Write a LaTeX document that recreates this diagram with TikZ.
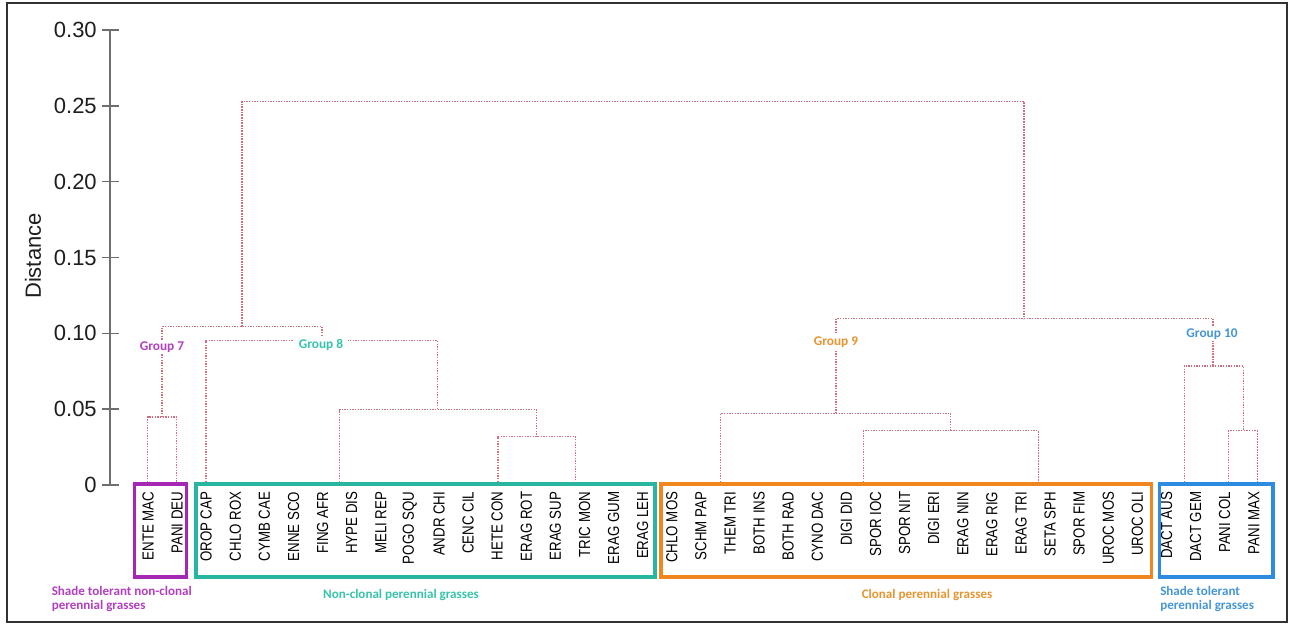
\documentclass[tikz,border=0pt]{standalone}
\usepackage{fontspec}
\setmainfont{Liberation Sans}
\newfontfamily\leaffont[FakeStretch=0.83]{Liberation Sans}
\newfontfamily\grpfont{Carlito}
\usetikzlibrary{fit}
\definecolor{dendcol}{RGB}{208,110,128}
\definecolor{axcol}{RGB}{110,110,110}
\definecolor{axtext}{RGB}{30,30,30}
\definecolor{framecol}{RGB}{50,50,50}
\definecolor{purpbox}{RGB}{165,40,180}
\definecolor{purptxt}{RGB}{178,62,192}
\definecolor{tealbox}{RGB}{40,182,160}
\definecolor{tealtxt}{RGB}{55,195,170}
\definecolor{orabox}{RGB}{240,135,30}
\definecolor{oratxt}{RGB}{232,148,48}
\definecolor{bluebox}{RGB}{45,140,225}
\definecolor{bluetxt}{RGB}{70,150,215}
\begin{document}
\begin{tikzpicture}[x=0.75pt,y=-0.75pt,
  dend/.style={draw=dendcol, line width=0.8pt, dash pattern=on 1.1pt off 0.9pt},
  leaf/.style={rotate=90, anchor=east, font=\leaffont\fontsize{12}{13}\selectfont, inner sep=0pt, text=black},
  ticklab/.style={anchor=east, font=\fontsize{16.5}{18}\selectfont, inner sep=0pt, text=axtext},
  grp/.style={font=\grpfont\bfseries\fontsize{10}{11}\selectfont, fill=white, inner sep=1.5pt},
  captxt/.style={font=\grpfont\bfseries\fontsize{9.8}{10.2}\selectfont, inner sep=0pt},
  gbox/.style={line width=2.3pt, inner sep=0pt}]
\useasboundingbox (0,0) rectangle (1292,626);
% frame
\draw[framecol, line width=1.1pt] (7,3) rectangle (1287,622);
% axis
\coordinate (axtop) at (110,30);
\coordinate (axbot) at (110,485);
\draw[axcol, line width=1.1pt] (axtop) -- (axbot);
\foreach \v/\lab [count=\k] in {0/0, 0.05/0.05, 0.10/0.10, 0.15/0.15, 0.20/0.20, 0.25/0.25, 0.30/0.30}{
  \coordinate (tk\k) at (102,{485-1516.7*\v});
  \coordinate (tke\k) at (119,{485-1516.7*\v});
  \draw[axcol, line width=1.1pt] (tk\k) -- (tke\k);
  \node[ticklab] (tl\k) at (97,{485-1516.7*\v}) {\lab};
}
\node[rotate=90, font=\fontsize{16.5}{18}\selectfont, text=axtext] (ytitle) at (33,256) {Distance};
% leaves
\foreach \n [count=\i from 0] in {ENTE MAC, PANI DEU, OROP CAP, CHLO ROX, CYMB CAE, ENNE SCO, FING AFR, HYPE DIS, MELI REP, POGO SQU, ANDR CHI, CENC CIL, HETE CON, ERAG ROT, ERAG SUP, TRIC MON, ERAG GUM, ERAG LEH, CHLO MOS, SCHM PAP, THEM TRI, BOTH INS, BOTH RAD, CYNO DAC, DIGI DID, SPOR IOC, SPOR NIT, DIGI ERI, ERAG NIN, ERAG RIG, ERAG TRI, SETA SPH, SPOR FIM, UROC MOS, UROC OLI, DACT AUS, DACT GEM, PANI COL, PANI MAX}{
  \node[leaf] (leaf\i) at ({148+29.1*\i},491.5) {\n};
}
% group boxes
\node[gbox, draw=purpbox, fit={(134.5,484)(186.5,577)}] (box7) {};
\node[gbox, draw=tealbox, fit={(196,484)(655,577)}] (box8) {};
\node[gbox, draw=orabox, fit={(661,484)(1151.5,577)}] (box9) {};
\node[gbox, draw=bluebox, fit={(1159.5,484)(1273,577)}] (box10) {};
% dendrogram: group 7
\coordinate (t7a) at (147.5,482); \coordinate (t7b) at (176.5,482);
\coordinate (m7) at (162,417);
\draw[dend] (t7a) |- (m7) -| (t7b);
% group 8
\coordinate (t8a) at (206,482); \coordinate (t8b) at (339.5,482);
\coordinate (t8c) at (498,482); \coordinate (t8d) at (575.5,482);
\coordinate (m8c) at (536.5,436.5);
\coordinate (m8b) at (437.5,409.5);
\coordinate (m8) at (322,340.5);
\draw[dend] (t8c) |- (m8c) -| (t8d);
\draw[dend] (t8b) |- (m8b) -| (m8c);
\draw[dend] (t8a) |- (m8) -| (m8b);
\coordinate (m78) at (242,326.5);
\draw[dend] (m7) |- (m78) -| (m8);
% group 9
\coordinate (t9a) at (720.7,482); \coordinate (t9b) at (863.3,482); \coordinate (t9c) at (1038.3,482);
\coordinate (m9b) at (950.7,430.7);
\coordinate (m9) at (836,413.3);
\draw[dend] (t9b) |- (m9b) -| (t9c);
\draw[dend] (t9a) |- (m9) -| (m9b);
% group 10
\coordinate (t10a) at (1184.3,482); \coordinate (t10b) at (1228.3,482); \coordinate (t10c) at (1257.3,482);
\coordinate (m10b) at (1243.3,430.7);
\coordinate (m10) at (1213,366);
\draw[dend] (t10b) |- (m10b) -| (t10c);
\draw[dend] (t10a) |- (m10) -| (m10b);
\coordinate (m910) at (1024,318.5);
\draw[dend] (m9) |- (m910) -| (m10);
% root
\coordinate (root) at (633,101.5);
\draw[dend] (m78) |- (root) -| (m910);
% group labels
\node[grp, text=purptxt] (g7) at (162,347) {Group 7};
\node[grp, text=tealtxt, inner xsep=4pt] (g8) at (321,344.5) {Group 8};
\node[grp, text=oratxt] (g9) at (836,342) {Group 9};
\node[grp, text=bluetxt] (g10) at (1212,334) {Group 10};
% captions
\node[captxt, text=purptxt, anchor=north west, align=left] (c7) at (51.5,586.5) {Shade tolerant non-clonal\\perennial grasses};
\node[captxt, text=tealtxt] (c8) at (401,595) {Non-clonal perennial grasses};
\node[captxt, text=oratxt] (c9) at (927,595) {Clonal perennial grasses};
\node[captxt, text=bluetxt, anchor=north west, align=left] (c10) at (1160,586.5) {Shade tolerant\\perennial grasses};
\end{tikzpicture}
\end{document}
